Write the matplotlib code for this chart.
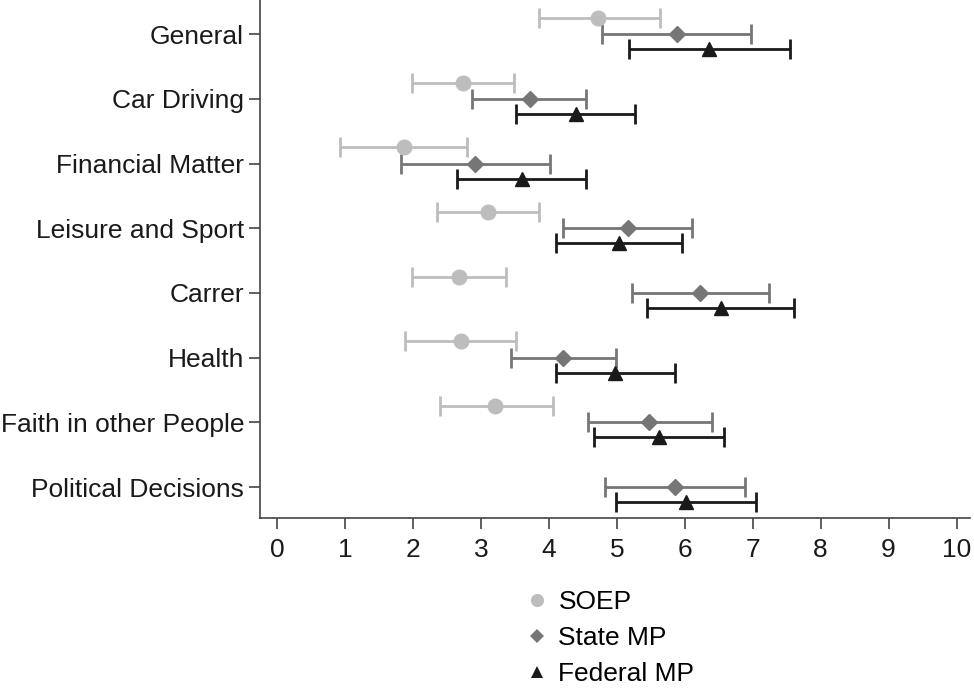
import numpy as np
import matplotlib
matplotlib.use('Agg')
import matplotlib.pyplot as plt
from matplotlib.lines import Line2D

plt.rcParams['font.family'] = ['Liberation Sans', 'DejaVu Sans']

# ===== Данные =====
categories = ['General', 'Car Driving', 'Financial Matter', 'Leisure and Sport',
              'Carrer', 'Health', 'Faith in other People', 'Political Decisions']

soep_mid = [4.73, 2.73, 1.87, 3.10, 2.68, 2.70, 3.21, np.nan]
soep_lo = [3.85, 1.99, 0.93, 2.36, 1.99, 1.89, 2.40, np.nan]
soep_hi = [5.63, 3.48, 2.80, 3.85, 3.37, 3.52, 4.06, np.nan]

state_mid = [5.88, 3.72, 2.92, 5.17, 6.22, 4.21, 5.48, 5.85]
state_lo = [4.78, 2.87, 1.83, 4.21, 5.23, 3.44, 4.57, 4.82]
state_hi = [6.98, 4.55, 4.02, 6.11, 7.24, 4.99, 6.40, 6.89]

fed_mid = [6.36, 4.40, 3.60, 5.03, 6.53, 4.98, 5.62, 6.02]
fed_lo = [5.18, 3.52, 2.65, 4.10, 5.44, 4.11, 4.66, 4.99]
fed_hi = [7.55, 5.27, 4.54, 5.96, 7.61, 5.86, 6.58, 7.05]

series = [
    ('SOEP', soep_mid, soep_lo, soep_hi, '#bdbdbd', 'o', 10.5, 0.25),
    ('State MP', state_mid, state_lo, state_hi, '#767676', 'D', 8, 0.0),
    ('Federal MP', fed_mid, fed_lo, fed_hi, '#1a1a1a', '^', 10, -0.23),
]

# ===== График =====
fig = plt.figure(figsize=(9.74, 6.88), dpi=100)
ax = fig.add_axes([0.267, 0.247, 0.729, 0.753])

y = np.arange(len(categories))[::-1]

handles = []
for name, mid, lo, hi, color, marker, ms, off in series:
    mid = np.array(mid)
    err = [mid - np.array(lo), np.array(hi) - mid]
    ax.errorbar(mid, y + off, xerr=err, fmt=marker, color=color, ecolor=color,
                markersize=ms, markeredgecolor=color, elinewidth=2,
                capsize=7, capthick=2)
    handles.append(Line2D([], [], linestyle='none', marker=marker, color=color,
                          markersize=ms * 0.9, markeredgewidth=0, label=name))

ax.set_xlim(-0.25, 10.2)
ax.set_ylim(-0.48, 7.53)
ax.set_xticks(range(0, 11))
ax.set_yticks(y)
ax.set_yticklabels(categories)
ax.spines['top'].set_visible(False)
ax.spines['right'].set_visible(False)
for s in ('left', 'bottom'):
    ax.spines[s].set_color('#444444')
    ax.spines[s].set_linewidth(1.2)
ax.tick_params(axis='both', labelsize=19, colors='#444444', labelcolor='#1a1a1a',
               length=8, width=1.2, direction='out')
ax.tick_params(axis='x', pad=6)

fig.legend(handles=handles, loc='upper left', bbox_to_anchor=(0.530, 0.161),
           frameon=False, fontsize=19, handlelength=0.6, handletextpad=0.5,
           labelspacing=0.45, borderpad=0)

fig.savefig('out.png', dpi=100)
